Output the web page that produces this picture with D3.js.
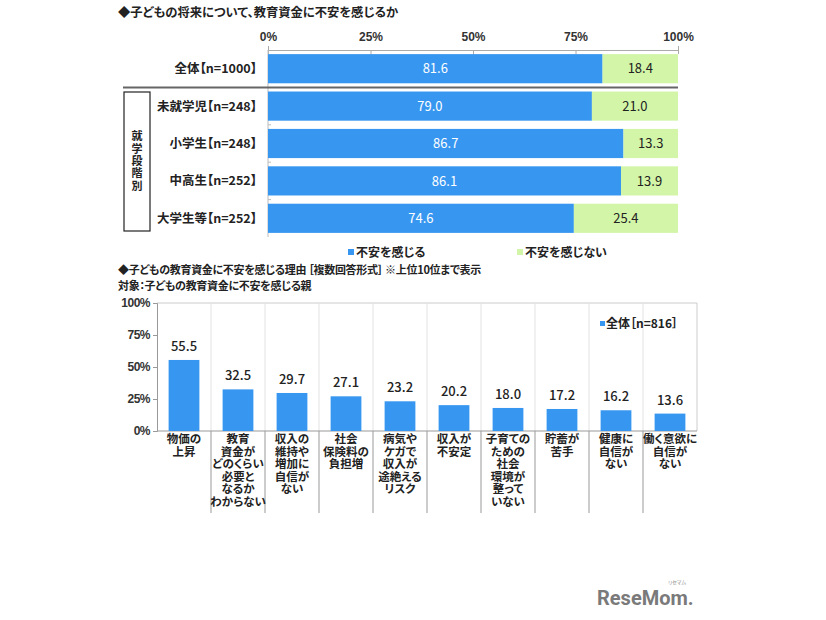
<!DOCTYPE html>
<meta charset="utf-8">
<style>
body { margin: 0; background: #fff; font-family: "Noto Sans CJK JP", "Noto Sans", sans-serif; }
text { fill: #222; font-feature-settings: "palt"; }
.title { font-size: 12px; font-weight: bold; }
.lab { font-size: 12.5px; font-weight: bold; }
.tick text { font-size: 12px; font-weight: bold; fill: #333; }
</style>
<body>
<svg width="826" height="620"></svg>
<script src="https://cdn.jsdelivr.net/npm/d3@7"></script>
<script>
// --- top chart data
var groups = ["全体【n=1000】", "未就学児【n=248】", "小学生【n=248】", "中高生【n=252】", "大学生等【n=252】"];
var anxious = [81.6, 79.0, 86.7, 86.1, 74.6];
var notAnxious = [18.4, 21.0, 13.3, 13.9, 25.4];
var pctTicks = [0, 25, 50, 75, 100];
var legend1 = ["不安を感じる", "不安を感じない"];

// --- bottom chart data
var reasons = [
  "物価の\n上昇",
  "教育\n資金が\nどのくらい\n必要と\nなるか\nわからない",
  "収入の\n維持や\n増加に\n自信が\nない",
  "社会\n保険料の\n負担増",
  "病気や\nケガで\n収入が\n途絶える\nリスク",
  "収入が\n不安定",
  "子育ての\nための\n社会\n環境が\n整って\nいない",
  "貯蓄が\n苦手",
  "健康に\n自信が\nない",
  "働く意欲に\n自信が\nない"
];
var reasonValues = [55.5, 32.5, 29.7, 27.1, 23.2, 20.2, 18.0, 17.2, 16.2, 13.6];
var legend2 = "全体［n=816］";

var blue = "#3796f0", green = "#d3f5a8";
var svg = d3.select("svg");

// ================= top chart =================
svg.append("text").attr("class", "title").attr("x", 118).attr("y", 17).style("font-size", "12.3px")
  .text("◆子どもの将来について、教育資金に不安を感じるか");

var x = d3.scaleLinear().domain([0, 100]).range([268, 678]);
var y = d3.scaleBand().domain(groups).range([50, 237]).paddingInner(0.22).paddingOuter(0.11);

var g1 = svg.append("g");

// top axis
var ax = g1.append("g").attr("transform", "translate(0,50)")
  .call(d3.axisTop(x).tickValues(pctTicks).tickSize(4).tickFormat(function (d) { return d + "%"; }));
ax.select(".domain").attr("stroke", "#aaa");
ax.selectAll(".tick line").attr("stroke", "#aaa").attr("y2", 4);
ax.selectAll(".tick text").attr("y", -9);

// left axis line
g1.append("line").attr("x1", 268).attr("x2", 268).attr("y1", 50).attr("y2", 237).attr("stroke", "#bbb");
y.domain().forEach(function (d, i) {
  if (i > 0) {
    var yy = y(d) - y.step() * y.paddingInner() / 2;
    g1.append("line").attr("x1", 268).attr("x2", 271).attr("y1", yy).attr("y2", yy).attr("stroke", "#bbb");
  }
});

groups.forEach(function (d, i) {
  g1.append("rect").attr("x", x(0)).attr("y", y(d)).attr("width", x(anxious[i]) - x(0))
    .attr("height", y.bandwidth()).attr("fill", blue);
  g1.append("rect").attr("x", x(anxious[i])).attr("y", y(d)).attr("width", x(100) - x(anxious[i]))
    .attr("height", y.bandwidth()).attr("fill", green);
  g1.append("text").attr("x", (x(0) + x(anxious[i])) / 2).attr("y", y(d) + y.bandwidth() / 2)
    .attr("dy", "0.36em").attr("text-anchor", "middle").style("fill", "#fff").style("font-size", "13px")
    .text(anxious[i].toFixed(1));
  g1.append("text").attr("x", (x(anxious[i]) + x(100)) / 2).attr("y", y(d) + y.bandwidth() / 2)
    .attr("dy", "0.36em").attr("text-anchor", "middle").style("font-size", "13px")
    .text(notAnxious[i].toFixed(1));
  g1.append("text").attr("class", "lab").attr("x", 257).attr("y", y(d) + y.bandwidth() / 2)
    .attr("dy", "0.36em").attr("text-anchor", "end").style("font-size", "12.5px").text(d);
});

// separator between 全体 and the school-stage rows
var sepY = y(groups[1]) - y.step() * y.paddingInner() / 2;
g1.append("line").attr("x1", 123).attr("x2", 678).attr("y1", sepY).attr("y2", sepY)
  .attr("stroke", "#666").attr("stroke-width", 2);
// group box with vertical label
g1.append("rect").attr("x", 124).attr("y", 92).attr("width", 26).attr("height", 139)
  .attr("fill", "none").attr("stroke", "#222").attr("stroke-width", 1.2);
g1.append("text").attr("class", "lab").attr("x", 137).attr("y", 161.5)
  .attr("text-anchor", "middle")
  .style("writing-mode", "vertical-rl").style("text-orientation", "upright")
  .style("font-size", "11px").style("letter-spacing", "1.4px")
  .text("就学段階別");

// legend
var lg1 = g1.append("g").attr("transform", "translate(0,253)");
[[348, blue], [517, green]].forEach(function (p, i) {
  lg1.append("rect").attr("x", p[0]).attr("y", -4).attr("width", 6).attr("height", 6).attr("fill", p[1]);
  lg1.append("text").attr("class", "lab").attr("x", p[0] + 8).attr("y", 0).attr("dy", "0.36em")
    .style("font-size", "12px").text(legend1[i]);
});

// ================= bottom chart =================
svg.append("text").attr("class", "title").attr("x", 118).attr("y", 274)
  .style("font-size", "11px").style("letter-spacing", "-0.3px")
  .text("◆子どもの教育資金に不安を感じる理由 ［複数回答形式］ ※上位10位まで表示");
svg.append("text").attr("class", "title").attr("x", 118).attr("y", 290)
  .style("font-size", "11px").style("letter-spacing", "-0.3px")
  .text("対象：子どもの教育資金に不安を感じる親");

var x2 = d3.scaleBand().domain(d3.range(reasons.length)).range([157, 697]).paddingInner(0.43).paddingOuter(0.215);
var y2 = d3.scaleLinear().domain([0, 100]).range([431, 303]);
var g2 = svg.append("g");

// plot frame and vertical grid
g2.append("path").attr("d", "M157,303H697V431").attr("fill", "none").attr("stroke", "#ccc");
d3.range(1, reasons.length).forEach(function (i) {
  var xx = 157 + i * x2.step();
  g2.append("line").attr("x1", xx).attr("x2", xx).attr("y1", 303).attr("y2", 431).attr("stroke", "#e2e2e2");
  g2.append("line").attr("x1", xx).attr("x2", xx).attr("y1", 431).attr("y2", 513).attr("stroke", "#999");
});

var ay = g2.append("g").attr("transform", "translate(157,0)")
  .call(d3.axisLeft(y2).tickValues(pctTicks).tickSize(4).tickFormat(function (d) { return d + "%"; }));
ay.select(".domain").attr("stroke", "#999");
ay.selectAll(".tick line").attr("stroke", "#999");
ay.selectAll(".tick text").attr("x", -7).style("letter-spacing", "-0.5px");
g2.append("line").attr("x1", 157).attr("x2", 697).attr("y1", 431).attr("y2", 431).attr("stroke", "#999");

reasonValues.forEach(function (v, i) {
  g2.append("rect").attr("x", x2(i)).attr("y", y2(v)).attr("width", x2.bandwidth())
    .attr("height", y2(0) - y2(v)).attr("fill", blue);
  g2.append("text").attr("x", x2(i) + x2.bandwidth() / 2).attr("y", y2(v) - 9)
    .attr("text-anchor", "middle").style("font-size", "13px").style("font-weight", "500").text(v.toFixed(1));
  var t = g2.append("text").attr("class", "lab").attr("text-anchor", "middle").style("font-size", "11.5px");
  reasons[i].split("\n").forEach(function (line, k) {
    t.append("tspan").attr("x", x2(i) + x2.bandwidth() / 2).attr("y", 443 + k * 12.6).text(line);
  });
});

// legend
g2.append("rect").attr("x", 600).attr("y", 321).attr("width", 5).attr("height", 5).attr("fill", blue);
g2.append("text").attr("class", "lab").attr("x", 606).attr("y", 324).attr("dy", "0.36em")
  .style("font-size", "12px").text(legend2);

// logo
svg.append("text").attr("x", 597).attr("y", 605).style("font-family", "Roboto, sans-serif")
  .style("font-weight", "bold").style("font-size", "20px").style("fill", "#7a7a7a").text("ReseMom.");
svg.append("text").attr("x", 668).attr("y", 584).style("font-size", "5px").style("fill", "#888").text("リセマム");
</script>
</body>
